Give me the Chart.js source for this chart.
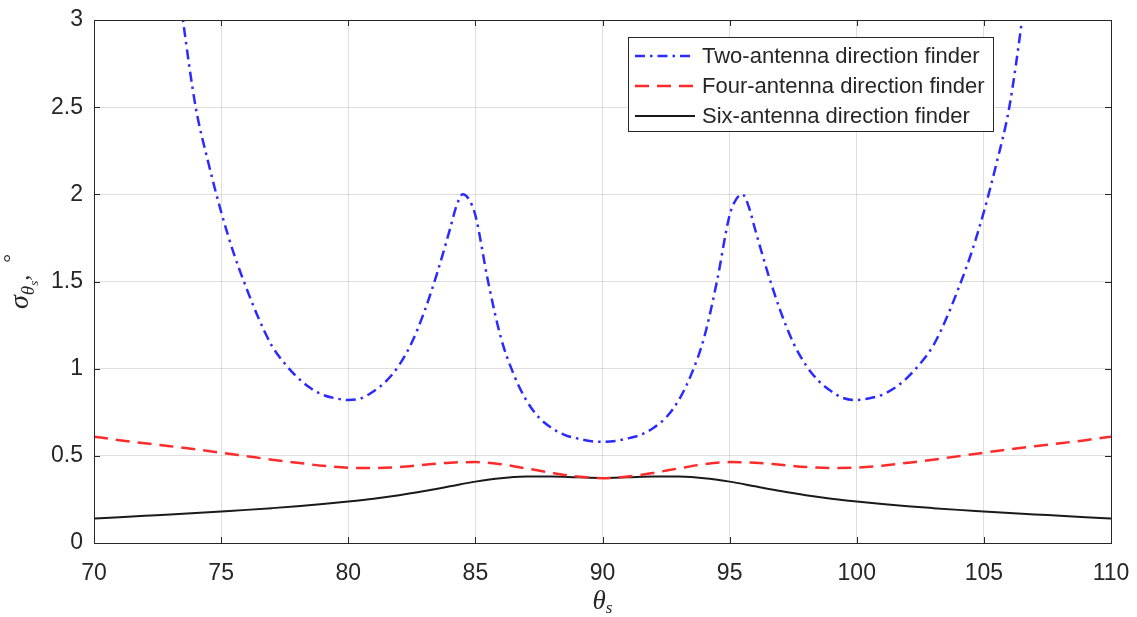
<!DOCTYPE html>
<html>
<head>
<meta charset="utf-8">
<script src="https://cdn.jsdelivr.net/npm/chart.js@4/dist/chart.umd.min.js"></script>
<style>
  body { margin: 0; background: #fff; }
  canvas { display: block; }
</style>
</head>
<body>
<canvas id="chartSigma" width="1137" height="617"></canvas>
<script>
// values (degrees)
const thetaTwo = [73, 73.5, 74, 74.5, 75, 75.5, 76, 76.5, 77, 77.5, 78, 78.5, 79, 79.5, 80, 80.5, 81, 81.5, 82, 82.5, 83, 83.5, 84, 84.25, 84.5, 84.75, 85, 85.5, 86, 86.5, 87, 87.5, 88, 88.5, 89, 89.5,
  90, 90.5, 91, 91.5, 92, 92.5, 93, 93.5, 94, 94.5, 95, 95.25, 95.5, 95.75, 96, 96.5, 97, 97.5, 98, 98.5, 99, 99.5, 100, 100.5, 101, 101.5, 102, 102.5, 103, 103.5, 104, 104.5, 105, 105.5, 106, 106.5, 107];
const sigmaTwo = [3.6, 3.0, 2.5, 2.18, 1.9, 1.66, 1.46, 1.28, 1.13, 1.03, 0.95, 0.89, 0.85, 0.83, 0.82, 0.83, 0.87, 0.93, 1.02, 1.15, 1.33, 1.55, 1.80, 1.93, 2.0, 1.97, 1.88, 1.50, 1.18, 0.97, 0.82, 0.72, 0.66, 0.62, 0.60, 0.585,
  0.58, 0.585, 0.60, 0.62, 0.66, 0.72, 0.82, 0.97, 1.18, 1.50, 1.88, 1.97, 2.0, 1.93, 1.80, 1.55, 1.33, 1.15, 1.02, 0.93, 0.87, 0.83, 0.82, 0.83, 0.85, 0.89, 0.95, 1.03, 1.13, 1.28, 1.46, 1.66, 1.9, 2.18, 2.5, 3.0, 3.6];

const thetaGrid = [70, 71, 72, 73, 74, 75, 76, 77, 78, 79, 80, 81, 82, 83, 84, 85, 86, 87, 88, 89, 90,
  91, 92, 93, 94, 95, 96, 97, 98, 99, 100, 101, 102, 103, 104, 105, 106, 107, 108, 109, 110];
const sigmaFour = [0.61, 0.59, 0.572, 0.555, 0.537, 0.518, 0.498, 0.478, 0.46, 0.443, 0.432, 0.43, 0.436, 0.449, 0.461, 0.464, 0.452, 0.428, 0.402, 0.381, 0.372,
  0.381, 0.402, 0.428, 0.452, 0.464, 0.461, 0.449, 0.436, 0.43, 0.432, 0.443, 0.46, 0.478, 0.498, 0.518, 0.537, 0.555, 0.572, 0.59, 0.61];
const sigmaSix = [0.14, 0.148, 0.156, 0.164, 0.172, 0.181, 0.19, 0.2, 0.211, 0.224, 0.238, 0.254, 0.274, 0.298, 0.325, 0.352, 0.372, 0.381, 0.382, 0.377, 0.373,
  0.377, 0.382, 0.381, 0.372, 0.352, 0.325, 0.298, 0.274, 0.254, 0.238, 0.224, 0.211, 0.2, 0.19, 0.181, 0.172, 0.164, 0.156, 0.148, 0.14];

const seriesNames = ['Two-antenna direction finder', 'Four-antenna direction finder', 'Six-antenna direction finder'];
const seriesColors = ['#2b2bff', '#ff2b2b', '#1a1a1a'];
const seriesDash = [[10, 5, 2.5, 5], [14, 8], []];
const seriesWidth = [2.5, 2.5, 2];

const axisColor = '#262626';
const tickFont = { family: 'Liberation Sans', size: 23 };

function pts(xs, ys) {
  return xs.map((v, i) => ({ x: v, y: ys[i] }));
}

const frame = {
  id: 'frame',
  afterDatasetsDraw(chart) {
    const { ctx, chartArea: a, scales: { x, y } } = chart;
    ctx.save();
    ctx.strokeStyle = axisColor;
    ctx.lineWidth = 1;
    ctx.beginPath();
    x.ticks.forEach(t => {
      const px = Math.round(x.getPixelForValue(t.value)) + 0.5;
      ctx.moveTo(px, a.bottom); ctx.lineTo(px, a.bottom - 6);
      ctx.moveTo(px, a.top); ctx.lineTo(px, a.top + 6);
    });
    y.ticks.forEach(t => {
      const py = Math.round(y.getPixelForValue(t.value)) + 0.5;
      ctx.moveTo(a.left, py); ctx.lineTo(a.left + 6, py);
      ctx.moveTo(a.right, py); ctx.lineTo(a.right - 6, py);
    });
    ctx.stroke();
    ctx.strokeRect(Math.round(a.left) + 0.5, Math.round(a.top) + 0.5, Math.round(a.right - a.left), Math.round(a.bottom - a.top));

    // legend box
    const bx = 628, by = 37, bw = 365, bh = 94;
    ctx.fillStyle = '#fff';
    ctx.fillRect(bx, by, bw, bh);
    ctx.strokeRect(bx + 0.5, by + 0.5, bw, bh);
    ctx.font = '22px "Liberation Sans"';
    ctx.textBaseline = 'middle';
    seriesNames.forEach((name, i) => {
      const ry = by + 19 + i * 30;
      ctx.strokeStyle = seriesColors[i];
      ctx.lineWidth = seriesWidth[i];
      ctx.setLineDash(seriesDash[i]);
      ctx.beginPath();
      ctx.moveTo(bx + 7, ry); ctx.lineTo(bx + 67, ry);
      ctx.stroke();
      ctx.setLineDash([]);
      ctx.fillStyle = axisColor;
      ctx.fillText(name, bx + 74, ry + 1);
    });

    // axis titles
    ctx.fillStyle = axisColor;
    ctx.textBaseline = 'alphabetic';
    ctx.font = 'italic 27px "Liberation Serif"';
    const th = '\u03B8';
    let w1 = ctx.measureText(th).width;
    ctx.font = 'italic 17px "Liberation Serif"';
    let w2 = ctx.measureText('s').width;
    let cx = (a.left + a.right) / 2 - (w1 + w2) / 2;
    ctx.font = 'italic 27px "Liberation Serif"';
    ctx.fillText(th, cx, 609);
    ctx.font = 'italic 17px "Liberation Serif"';
    ctx.fillText('s', cx + w1, 613);

    ctx.translate(28, (a.top + a.bottom) / 2);
    ctx.rotate(-Math.PI / 2);
    const parts = [
      { t: '\u03C3', f: 'italic 28px "Liberation Serif"', dy: 0 },
      { t: th, f: 'italic 19px "Liberation Serif"', dy: 6 },
      { t: 's', f: 'italic 13px "Liberation Serif"', dy: 10 },
      { t: ',  ', f: '24px "Liberation Serif"', dy: 0 },
      { t: '\u00B0', f: '22px "Liberation Serif"', dy: -10 }
    ];
    let total = 0;
    parts.forEach(p => { ctx.font = p.f; p.w = ctx.measureText(p.t).width; total += p.w; });
    let px = -total / 2;
    parts.forEach(p => { ctx.font = p.f; ctx.fillText(p.t, px, p.dy); px += p.w; });
    ctx.restore();
  }
};

const ctxSigma = document.getElementById('chartSigma').getContext('2d');
const chart = new Chart(ctxSigma, {
  type: 'line',
  data: {
    datasets: [
      { label: seriesNames[0], data: pts(thetaTwo, sigmaTwo) },
      { label: seriesNames[1], data: pts(thetaGrid, sigmaFour) },
      { label: seriesNames[2], data: pts(thetaGrid, sigmaSix) }
    ].map((d, i) => Object.assign(d, {
      borderColor: seriesColors[i],
      borderWidth: seriesWidth[i],
      borderDash: seriesDash[i],
      pointRadius: 0,
      fill: false,
      cubicInterpolationMode: 'monotone',
      clip: 0
    }))
  },
  options: {
    responsive: false,
    animation: false,
    layout: { padding: { left: 0, top: 20, right: 26, bottom: 0 } },
    plugins: {
      legend: { display: false },
      tooltip: { enabled: false }
    },
    scales: {
      x: {
        type: 'linear',
        min: 70, max: 110,
        afterFit: s => { s.height = 74; s.paddingLeft = 0; s.paddingRight = 0; },
        border: { display: false },
        grid: { color: 'rgba(38,38,38,0.15)', drawTicks: false },
        ticks: { stepSize: 5, color: axisColor, font: tickFont, padding: 17, maxRotation: 0 }
      },
      y: {
        min: 0, max: 3,
        afterFit: s => { s.width = 94; s.paddingTop = 0; s.paddingBottom = 0; },
        border: { display: false },
        grid: { color: 'rgba(38,38,38,0.15)', drawTicks: false },
        ticks: { stepSize: 0.5, color: axisColor, font: tickFont, padding: 11, callback: v => String(v) }
      }
    }
  },
  plugins: [frame]
});
</script>
</body>
</html>
